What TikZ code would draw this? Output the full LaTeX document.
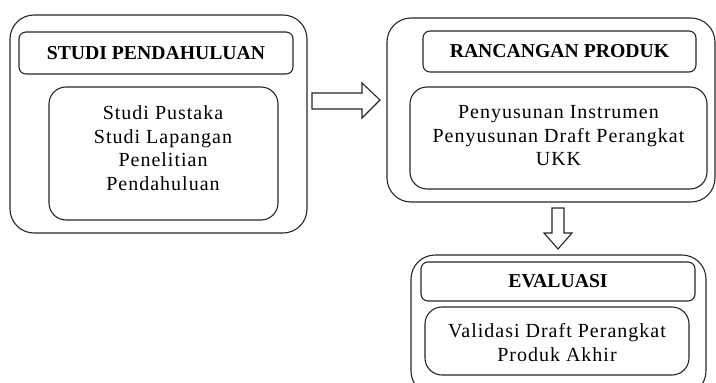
\documentclass[tikz,border=0pt]{standalone}
\usepackage{fontspec}
\setmainfont{Liberation Serif}
\begin{document}
\begin{tikzpicture}[x=1pt,y=-1pt,
  outerbox/.style={draw=black!85,line width=1.1pt,rounded corners=24pt,inner sep=0pt},
  titlebox/.style={draw=black!85,line width=1.1pt,rounded corners=7pt,inner sep=0pt,
    font=\fontsize{19.7}{23}\selectfont\bfseries},
  innerbox/.style={draw=black!85,line width=1.1pt,rounded corners=17pt,inner sep=0pt},
  bodytext/.style={align=center,font=\fontsize{20}{23.5}\selectfont\addfontfeatures{LetterSpace=5},inner sep=0pt},
  blockarrow/.style={draw=black!85,line width=1.1pt,fill=white,line join=miter}]
\useasboundingbox (0,0) rectangle (716,383);
\begin{scope}
\clip (0,0) rectangle (716,383);
% Box 1
\node[outerbox,minimum width=297pt,minimum height=218pt] (box1) at (158.5,124) {};
\node[titlebox,minimum width=274pt,minimum height=42pt] (t1) at (156,53) {STUDI PENDAHULUAN};
\node[innerbox,minimum width=229pt,minimum height=133pt] (i1) at (163.5,153.5) {};
\node[bodytext] (b1) at (163,148) {Studi Pustaka\\Studi Lapangan\\Penelitian\\Pendahuluan};
% Box 2
\node[outerbox,minimum width=328pt,minimum height=184pt] (box2) at (551,110) {};
\node[titlebox,minimum width=273pt,minimum height=41pt] (t2) at (559.5,51.5) {RANCANGAN PRODUK};
\node[innerbox,minimum width=297pt,minimum height=102pt] (i2) at (558.5,138) {};
\node[bodytext] (b2) at (558.5,136) {Penyusunan Instrumen\\Penyusunan Draft Perangkat\\UKK};
% Box 3
\node[outerbox,minimum width=295pt,minimum height=140pt] (box3) at (558.5,325) {};
\node[titlebox,minimum width=274pt,minimum height=39pt] (t3) at (558,281.5) {EVALUASI};
\node[innerbox,minimum width=264pt,minimum height=68pt] (i3) at (557,341) {};
\node[bodytext] (b3) at (557,342.5) {Validasi Draft Perangkat\\Produk Akhir};
\end{scope}
% Arrows
\draw[blockarrow] (312,93) -- (362,93) -- (362,83) -- (380,100) -- (362,118) -- (362,109) -- (312,109) -- cycle;
\draw[blockarrow] (552,208) -- (564,208) -- (564,233) -- (572,233) -- (558,249) -- (544,233) -- (552,233) -- cycle;
\end{tikzpicture}
\end{document}
